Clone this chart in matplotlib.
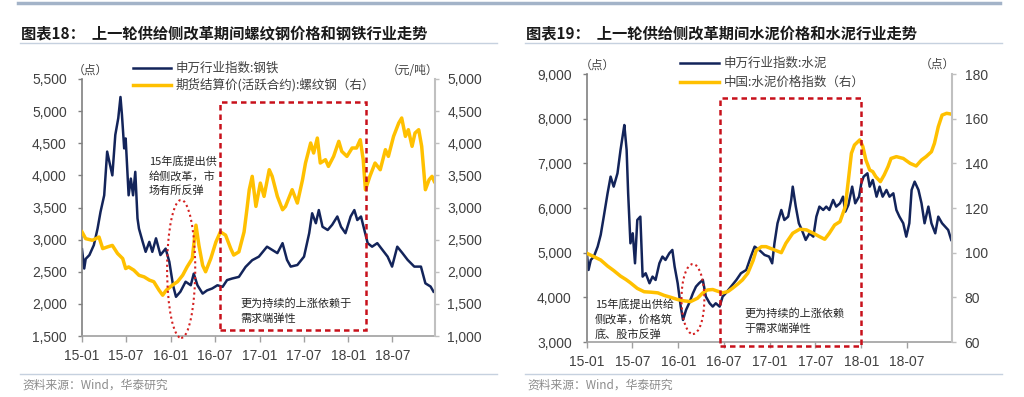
import matplotlib
matplotlib.use("Agg")
import matplotlib.pyplot as plt
import matplotlib.dates as mdates
from matplotlib.patches import Rectangle, Ellipse
from matplotlib.lines import Line2D
from datetime import datetime, timedelta

# ---------------- data (x = months since 2015-01) ----------------
steel_t = [0, 0.3, 0.5, 1.0, 1.6, 2.1, 2.5, 3.0, 3.4, 3.7, 4.1, 4.5, 4.9, 5.2, 5.4, 5.7, 5.9,
           6.3, 6.6, 6.9, 7.2, 7.5, 7.7, 8.2, 8.6, 9.1, 9.5, 10.0, 10.6, 11.3, 11.8, 12.3, 12.7,
           13.3, 14.0, 14.7, 15.1, 15.6, 16.3, 16.9, 17.6, 18.3, 19.0, 19.6, 20.3, 21.2, 22.1,
           23.0, 23.9, 25.0, 25.7, 26.4, 27.1, 27.7, 28.2, 29.1, 30.0, 30.7, 31.1, 31.6, 32.0,
           32.5, 33.2, 33.8, 34.5, 35.0, 35.6, 36.3, 36.8, 37.2, 37.7, 38.1, 38.6, 39.2, 39.9,
           40.6, 41.3, 41.9, 42.6, 43.3, 44.0, 44.9, 45.8, 46.4, 47.1, 47.5]
steel_idx = [2850, 2550, 2700, 2760, 2915, 3170, 3430, 3690, 4370, 4210, 4000, 4630, 4890, 5220,
             4940, 4420, 4575, 3690, 3950, 3690, 4055, 3330, 3170, 2965, 2810, 2965, 2810, 3020,
             2760, 2860, 2655, 2290, 2110, 2190, 2345, 2290, 2470, 2290, 2160, 2210, 2240, 2290,
             2265, 2370, 2395, 2420, 2575, 2680, 2735, 2890, 2840, 2790, 2945, 2685, 2580, 2605,
             2735, 3100, 3410, 3255, 3460, 3200, 3150, 3230, 3360, 3200, 3100, 3360, 3460, 3305,
             3360, 3175, 2945, 2890, 2945, 2840, 2735, 2580, 2890, 2790, 2685, 2580, 2580, 2320,
             2270, 2190]

rebar_t = [0, 0.5, 1.4, 2.3, 2.8, 3.4, 4.1, 4.8, 5.5, 5.9, 6.3, 7.0, 7.7, 8.4, 9.1, 9.7, 10.4,
           10.9, 11.4, 12.2, 12.9, 13.6, 14.2, 14.9, 15.4, 15.8, 16.3, 16.7, 17.4, 18.1, 18.7,
           19.4, 20.1, 20.5, 21.2, 21.9, 22.3, 22.6, 23.0, 23.5, 24.1, 24.6, 25.3, 25.7, 26.4,
           27.1, 27.5, 28.4, 29.1, 29.8, 30.2, 30.9, 31.3, 31.8, 32.2, 32.9, 33.3, 34.0, 34.7,
           35.1, 35.8, 36.5, 37.1, 37.6, 38.0, 38.3, 38.9, 39.6, 40.3, 41.0, 41.4, 42.1, 42.8,
           43.2, 43.7, 44.1, 44.6, 45.0, 45.5, 45.9, 46.4, 46.9, 47.3, 47.6]
rebar_price = [2620, 2515, 2490, 2540, 2360, 2385, 2410, 2285, 2205, 2050, 2075, 2025, 1945,
               1920, 1870, 1845, 1715, 1635, 1715, 1790, 1845, 1945, 2075, 2205, 2725, 2410,
               2100, 2000, 2205, 2465, 2620, 2570, 2360, 2260, 2310, 2620, 2985, 3277, 3485,
               3017, 3380, 3173, 3588, 3485, 3173, 2965, 3017, 3277, 3069, 3432, 3692, 4004,
               3848, 4081, 3692, 3744, 3640, 3796, 4030, 3874, 3796, 3926, 3926, 4055, 3744,
               3277, 3485, 3692, 3588, 3900, 3796, 4107, 4315, 4393, 4107, 4211, 3952, 4159,
               4211, 3952, 3277, 3432, 3485, 3406]

cement_t = [0, 0.2, 0.5, 0.9, 1.4, 1.8, 2.2, 2.7, 3.1, 3.5, 4.0, 4.4, 4.8, 4.9, 5.2, 5.4, 5.7,
            6.0, 6.3, 6.6, 7.0, 7.3, 7.7, 8.2, 8.6, 9.0, 9.5, 9.9, 10.3, 10.8, 11.2, 11.5, 11.9,
            12.3, 12.6, 13.0, 13.4, 13.9, 14.3, 14.7, 15.2, 15.6, 16.1, 16.5, 16.9, 17.4, 17.8,
            18.2, 18.9, 19.6, 20.2, 20.9, 21.5, 22.0, 22.6, 23.3, 23.9, 24.3, 24.6, 25.0, 25.5,
            25.9, 26.4, 26.8, 27.0, 27.4, 27.8, 28.2, 28.7, 29.2, 29.7, 30.1, 30.5, 31.0, 31.4,
            31.8, 32.3, 32.7, 33.2, 33.6, 33.9, 34.3, 34.8, 35.2, 35.7, 36.0, 36.3, 36.8, 37.1,
            37.5, 38.0, 38.4, 38.8, 39.3, 39.7, 40.2, 40.6, 41.0, 41.5, 41.9, 42.3, 42.6, 43.0,
            43.5, 43.9, 44.3, 44.8, 45.2, 45.7, 46.1, 46.6, 47.0, 47.4, 47.8]
cement_idx = [4950, 4613, 4837, 4912, 5135, 5400, 5807, 6329, 6702, 6478, 6777, 7299, 7746,
              7858, 7299, 6329, 5210, 5434, 4762, 5732, 5807, 4464, 4539, 4315, 4464, 4389,
              4762, 4912, 4837, 4986, 5061, 4688, 4315, 3793, 3494, 3718, 3867, 4091, 4240,
              4315, 4389, 4016, 3867, 3793, 3867, 3793, 4016, 4091, 4240, 4389, 4539, 4613,
              4912, 5135, 5061, 4949, 4912, 4762, 5210, 5658, 5956, 5732, 5807, 6180, 6478,
              6031, 5658, 5508, 5285, 5434, 5359, 5807, 6031, 5956, 6031, 5956, 6180, 6031,
              6105, 6254, 5919, 6068, 6478, 6105, 6254, 6553, 6702, 6777, 6478, 6627, 6254,
              6478, 6254, 6404, 6254, 6329, 5956, 5807, 5658, 5359, 5658, 6404, 6590, 6404,
              6105, 5658, 6031, 5658, 5434, 5807, 5658, 5583, 5508, 5285]

cprice_t = [0, 0.9, 1.8, 2.7, 3.5, 4.4, 5.1, 5.7, 6.6, 7.5, 8.4, 9.3, 10.1, 11.0, 11.9, 12.8,
            13.6, 14.5, 15.2, 15.8, 16.5, 17.1, 17.8, 18.5, 19.1, 19.8, 20.4, 21.1, 21.8, 22.2,
            22.9, 23.5, 24.4, 25.5, 26.1, 27.0, 27.9, 28.8, 29.7, 30.5, 31.2, 31.8, 32.5, 33.2,
            33.9, 34.3, 34.7, 35.1, 35.8, 36.2, 36.6, 37.1, 37.5, 37.9, 38.5, 39.0, 39.5, 39.9,
            40.6, 41.5, 42.4, 43.2, 43.9, 44.5, 45.2, 45.6, 46.1, 46.6, 47.2, 47.7]
cprice_idx = [99.7, 98.2, 96.7, 94.0, 92.0, 89.5, 88.0, 86.5, 84.0, 82.5, 82.3, 82.0, 80.9,
              80.0, 79.0, 78.4, 78.1, 79.6, 82.0, 83.3, 83.5, 82.8, 82.0, 82.6, 84.1, 86.0,
              87.8, 90.8, 96.5, 101.0, 102.7, 102.7, 101.5, 100.0, 104.2, 108.7, 110.5, 110.2,
              108.7, 107.2, 106.0, 108.7, 112.4, 113.9, 120.6, 132.5, 144.5, 148.2, 150.5,
              147.5, 141.5, 137.0, 136.3, 134.0, 131.8, 134.8, 138.5, 142.2, 143.0, 142.2,
              140.0, 138.8, 141.5, 143.0, 145.2, 149.0, 156.4, 161.6, 162.4, 162.1]

x_ticks = ['2015-01-01', '2015-07-01', '2016-01-01', '2016-07-01',
           '2017-01-01', '2017-07-01', '2018-01-01', '2018-07-01']
left1_ticks = [1500, 2000, 2500, 3000, 3500, 4000, 4500, 5000, 5500]
right1_ticks = [1000, 1500, 2000, 2500, 3000, 3500, 4000, 4500, 5000]
left2_ticks = [3000, 4000, 5000, 6000, 7000, 8000, 9000]
right2_ticks = [60, 80, 100, 120, 140, 160, 180]

title1 = '图表18：  上一轮供给侧改革期间螺纹钢价格和钢铁行业走势'
title2 = '图表19：  上一轮供给侧改革期间水泥价格和水泥行业走势'
legend1 = ['申万行业指数:钢铁', '期货结算价(活跃合约):螺纹钢（右）']
legend2 = ['申万行业指数:水泥', '中国:水泥价格指数（右）']
source = '资料来源：Wind，华泰研究'

# ---------------- style ----------------
CJK = ['Noto Sans CJK SC', 'DejaVu Sans']
NUM = ['Liberation Sans', 'DejaVu Sans']
plt.rcParams['font.family'] = NUM
NAVY = '#13245A'
GOLD = '#FFC000'
RED = '#C8101A'
TXT = '#404040'

BASE = datetime(2015, 1, 1)


def to_dates(months):
    return [BASE + timedelta(days=m * 30.4375) for m in months]


def mnum(m):
    return mdates.date2num(BASE + timedelta(days=m * 30.4375))


W, H = 1024, 397
fig = plt.figure(figsize=(W / 100, H / 100), dpi=100)


def fx(x):
    return x / W


def fy(y):
    return 1 - y / H


def ftext(x, y, s, **kw):
    kw.setdefault('family', CJK)
    kw.setdefault('va', 'center')
    kw.setdefault('ha', 'left')
    fig.text(fx(x), fy(y), s, **kw)


def fline(x0, x1, y, **kw):
    fig.add_artist(Line2D([fx(x0), fx(x1)], [fy(y), fy(y)], **kw))


def make_axes(l, r, t, b, ylim, rylim, yt, ryt, xend, lfmt, rfmt):
    ax = fig.add_axes([fx(l), fy(b), fx(r) - fx(l), fy(t) - fy(b)])
    axr = ax.twinx()
    ax.set_ylim(*ylim)
    axr.set_ylim(*rylim)
    ax.set_yticks(yt)
    axr.set_yticks(ryt)
    ax.set_yticklabels([lfmt(v) for v in yt])
    axr.set_yticklabels([rfmt(v) for v in ryt])
    ax.set_xlim(mnum(0), mnum(xend))
    xt = [datetime.strptime(s, '%Y-%m-%d') for s in x_ticks]
    ax.set_xticks(xt)
    ax.xaxis.set_major_formatter(mdates.DateFormatter('%y-%m'))
    for a in (ax, axr):
        a.spines['top'].set_visible(False)
        a.set_facecolor('none')
    ax.spines['left'].set_color('#808080')
    ax.spines['bottom'].set_color('#A0A0A0')
    ax.spines['right'].set_visible(False)
    axr.spines['left'].set_visible(False)
    axr.spines['bottom'].set_visible(False)
    axr.spines['right'].set_color('#C0C0C0')
    for sp in ('left', 'bottom'):
        ax.spines[sp].set_linewidth(1.2)
    axr.spines['right'].set_linewidth(1.5)
    ax.tick_params(axis='y', direction='out', length=3, width=1, color='#808080',
                   labelsize=10, labelcolor=TXT, pad=8)
    ax.tick_params(axis='x', direction='out', length=4, width=1, color='#A0A0A0',
                   labelsize=10, labelcolor=TXT, pad=5)
    axr.tick_params(axis='y', direction='out', length=3, width=1, color='#C0C0C0',
                    labelsize=10, labelcolor=TXT, pad=6)
    return ax, axr


thou = lambda v: f'{v:,.0f}'
plain = lambda v: f'{v:.0f}'

# ---------------- left panel ----------------
ax1, ax1r = make_axes(82, 435, 79, 336, (1500, 5500), (1000, 5000),
                      left1_ticks, right1_ticks, 47.7, thou, thou)
ax1.plot(to_dates(steel_t), steel_idx, color=NAVY, lw=1.8, solid_joinstyle='round')
ax1r.plot(to_dates(rebar_t), rebar_price, color=GOLD, lw=2.5, solid_joinstyle='round')
ax1r.add_patch(Rectangle((mnum(18.6), 1594), mnum(38.4) - mnum(18.6), 5147 - 1594,
                         transform=ax1.transData, fill=False, ec=RED, lw=1.8,
                         ls=(0, (2.2, 1.6)), clip_on=False, zorder=5))
ax1r.add_patch(Ellipse((mnum(13.4), 2544), mnum(3.8) - mnum(0), 2147,
                       transform=ax1.transData, fill=False, ec='#D42020', lw=1.5,
                       ls=(0, (1, 1.5)), clip_on=False, zorder=5))

# ---------------- right panel ----------------
ax2, ax2r = make_axes(587, 952, 74, 342, (3000, 9000), (60, 180),
                      left2_ticks, right2_ticks, 47.9, thou, plain)
ax2.plot(to_dates(cement_t), cement_idx, color=NAVY, lw=1.8, solid_joinstyle='round')
ax2r.plot(to_dates(cprice_t), cprice_idx, color=GOLD, lw=2.5, solid_joinstyle='round')
ax2r.add_patch(Rectangle((mnum(17.4), 2917), mnum(36.0) - mnum(17.4), 8456 - 2917,
                         transform=ax2.transData, fill=False, ec=RED, lw=1.8,
                         ls=(0, (2.2, 1.6)), clip_on=False, zorder=5))
ax2r.add_patch(Ellipse((mnum(13.9), 3962), mnum(3.0) - mnum(0), 1567,
                       transform=ax2.transData, fill=False, ec='#D42020', lw=1.5,
                       ls=(0, (1, 1.5)), clip_on=False, zorder=5))

# ---------------- frame / titles ----------------
fline(18, 1000, 2.5, color='#A3B3C8', lw=2.5)
fline(20, 497, 43, color='#C6D1DF', lw=1)
fline(525, 1002, 43, color='#C6D1DF', lw=1)
fline(20, 497, 374, color='#C6D1DF', lw=1)
fline(525, 1002, 374, color='#C6D1DF', lw=1)

ftext(21, 33, title1, fontsize=11, fontweight='bold', color='#1A1A1A')
ftext(526, 33, title2, fontsize=11, fontweight='bold', color='#1A1A1A')
ftext(22, 385, source, fontsize=8.5, color='#8C8C8C')
ftext(527, 385, source, fontsize=8.5, color='#8C8C8C')

# units
ftext(90, 70, '（点）', fontsize=8.5, color=TXT, ha='center')
ftext(413, 70, '（元/吨）', fontsize=8.5, color=TXT, ha='center')
ftext(597, 65, '（点）', fontsize=8.5, color=TXT, ha='center')
ftext(937, 64, '（点）', fontsize=8.5, color=TXT, ha='center')

# legends
fline(133, 171, 68, color=NAVY, lw=1.8)
fline(133, 171, 85, color=GOLD, lw=2.5)
ftext(176, 68, legend1[0], fontsize=9, color=TXT)
ftext(176, 85, legend1[1], fontsize=9, color=TXT)
fline(680, 719, 63, color=NAVY, lw=1.8)
fline(680, 719, 82, color=GOLD, lw=2.5)
ftext(724, 63, legend2[0], fontsize=9, color=TXT)
ftext(724, 82, legend2[1], fontsize=9, color=TXT)

# annotations
for i, s in enumerate(['15年底提出供', '给侧改革，市', '场有所反弹']):
    ftext(149, 161 + 15 * i, s, fontsize=8, color='#262626')
for i, s in enumerate(['更为持续的上涨依赖于', '需求端弹性']):
    ftext(240, 303 + 16 * i, s, fontsize=8, color='#262626')
for i, s in enumerate(['15年底提出供给', '侧改革，价格筑', '底、股市反弹']):
    ftext(595, 304 + 15 * i, s, fontsize=8, color='#262626')
for i, s in enumerate(['更为持续的上涨依赖', '于需求端弹性']):
    ftext(744, 313 + 15.5 * i, s, fontsize=8, color='#262626')

fig.savefig('out.png', dpi=100)
